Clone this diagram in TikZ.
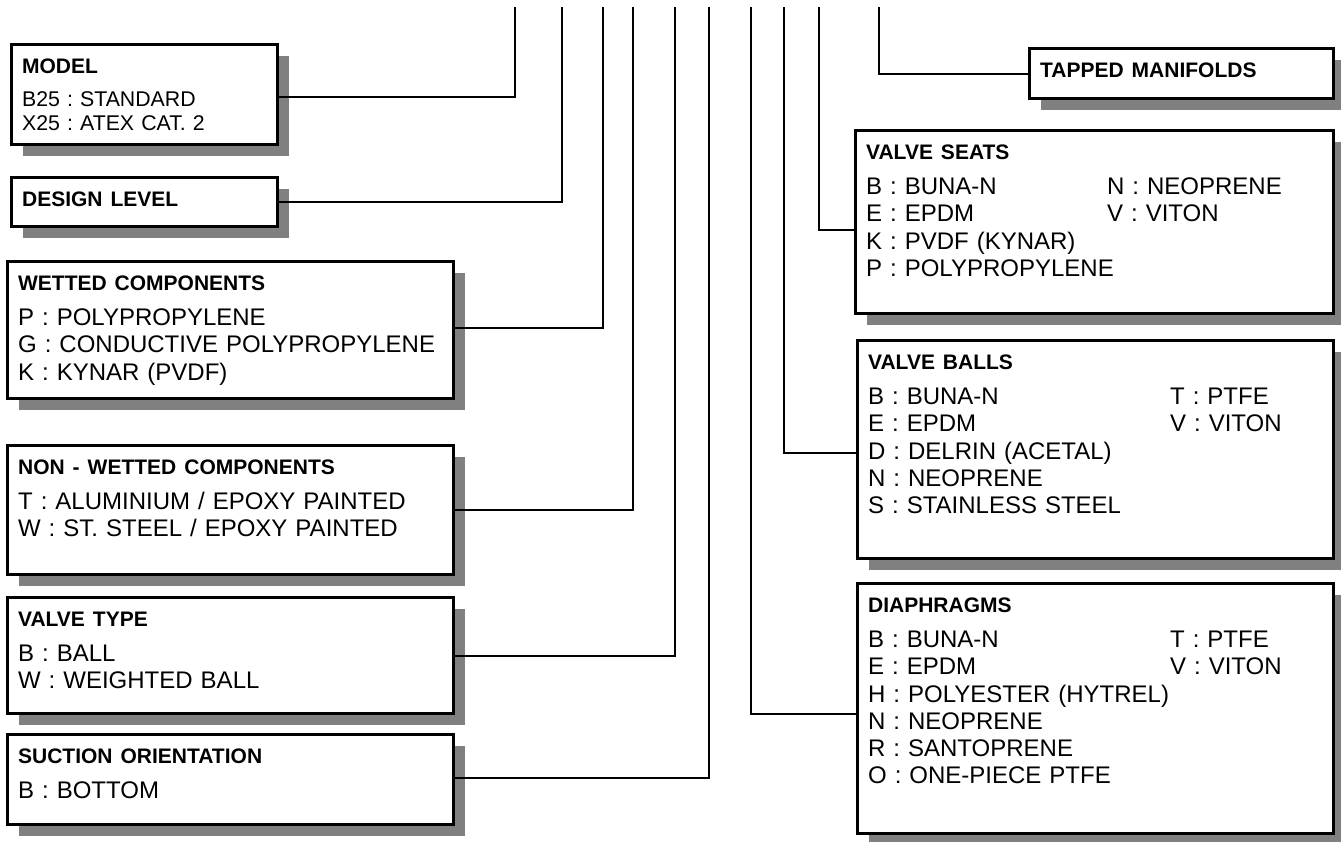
\documentclass[tikz,border=0pt]{standalone}
\usepackage{fontspec}
\setmainfont{Liberation Sans}
\usetikzlibrary{shadows}
\definecolor{shade}{RGB}{128,128,128}
\newcommand\paneltitle[1]{{\fontsize{21}{27.3}\selectfont\bfseries #1}}
\frenchspacing

\begin{document}
\begin{tikzpicture}[
  x=1pt, y=-1pt,
  panel/.style={draw=black, line width=3.2pt, fill=white, anchor=north west,
                inner xsep=10.5pt, inner ysep=0pt, align=left, text height=28.5pt,
                font=\fontsize{24}{27.3}\selectfont,
                drop shadow={shadow xshift=11pt, shadow yshift=-11pt, fill=shade, opacity=1}},
  small/.style={font=\fontsize{21.3}{24}\selectfont},
  wire/.style={draw=black, line width=2pt},
]
\useasboundingbox (0,0) rectangle (1341,841);

% left column
\node[panel, small, text width=245pt, text depth=71.5pt] (model) at (10,43)
  {\paneltitle{MODEL}\\[9pt]B25 : STANDARD\\X25 : ATEX CAT. 2};
\node[panel, text width=245pt, text depth=20.5pt] (design) at (10,176)
  {\paneltitle{DESIGN LEVEL}};
\node[panel, text width=425pt, text depth=108.5pt] (wetted) at (6,260)
  {\paneltitle{WETTED COMPONENTS}\\[8pt]P : POLYPROPYLENE\\G : CONDUCTIVE POLYPROPYLENE\\K : KYNAR (PVDF)};
\node[panel, text width=425pt, text depth=100.5pt] (nonwet) at (6,444)
  {\paneltitle{NON - WETTED COMPONENTS}\\[8pt]T : ALUMINIUM / EPOXY PAINTED\\W : ST. STEEL / EPOXY PAINTED};
\node[panel, text width=425pt, text depth=87.5pt] (vtype) at (6,596)
  {\paneltitle{VALVE TYPE}\\[8pt]B : BALL\\W : WEIGHTED BALL};
\node[panel, text width=425pt, text depth=61.5pt] (suction) at (6,733)
  {\paneltitle{SUCTION ORIENTATION}\\[8pt]B : BOTTOM};

% right column
\node[panel, text width=283pt, text depth=21.5pt] (tapped) at (1028,47)
  {\paneltitle{TAPPED MANIFOLDS}};
\node[panel, text width=457pt, text depth=154.5pt] (seats) at (854,129)
  {\paneltitle{VALVE SEATS}\\[8pt]\makebox[241pt][l]{B : BUNA-N}N : NEOPRENE\\
   \makebox[241pt][l]{E : EPDM}V : VITON\\K : PVDF (KYNAR)\\P : POLYPROPYLENE};
\node[panel, text width=455pt, text depth=189.5pt] (balls) at (856,339)
  {\paneltitle{VALVE BALLS}\\[8pt]\makebox[302pt][l]{B : BUNA-N}T : PTFE\\
   \makebox[302pt][l]{E : EPDM}V : VITON\\D : DELRIN (ACETAL)\\N : NEOPRENE\\S : STAINLESS STEEL};
\node[panel, text width=455pt, text depth=221.5pt] (diaph) at (856,582)
  {\paneltitle{DIAPHRAGMS}\\[8pt]\makebox[302pt][l]{B : BUNA-N}T : PTFE\\
   \makebox[302pt][l]{E : EPDM}V : VITON\\H : POLYESTER (HYTREL)\\N : NEOPRENE\\
   R : SANTOPRENE\\O : ONE-PIECE PTFE};

% code positions along the top
\coordinate (tModel)   at (515,7);
\coordinate (tDesign)  at (562,7);
\coordinate (tWetted)  at (603,7);
\coordinate (tNonwet)  at (633,7);
\coordinate (tVtype)   at (675,7);
\coordinate (tSuction) at (709,7);
\coordinate (tDiaph)   at (751,7);
\coordinate (tBalls)   at (784,7);
\coordinate (tSeats)   at (819,7);
\coordinate (tTapped)  at (879,7);

\draw[wire] (tModel)   |- ([yshift=-2pt]model.east);
\draw[wire] (tDesign)  |- (design.east);
\draw[wire] (tWetted)  |- ([yshift=2pt]wetted.east);
\draw[wire] (tNonwet)  |- (nonwet.east);
\draw[wire] (tVtype)   |- (vtype.east);
\draw[wire] (tSuction) |- ([yshift=2pt]suction.east);
\draw[wire] (tDiaph)   |- ([yshift=-5pt]diaph.west);
\draw[wire] (tBalls)   |- ([yshift=-3pt]balls.west);
\draw[wire] (tSeats)   |- ([yshift=-7.5pt]seats.west);
\draw[wire] (tTapped)  |- (tapped.west);
\end{tikzpicture}
\end{document}
